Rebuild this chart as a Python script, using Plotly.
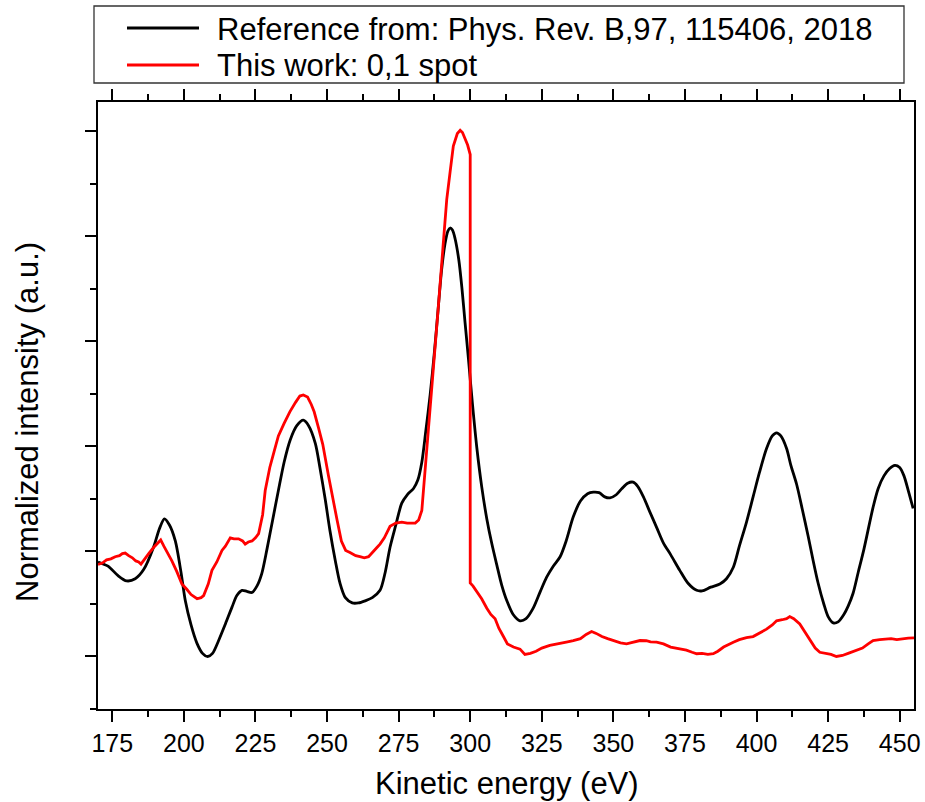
import plotly.graph_objects as go

# ---- Data ----
ref_energy = [170, 173.5, 177, 180, 183, 186, 189.4, 191.5, 193.2, 195, 197, 199, 200.5, 202.5, 204.5,
              206.5, 208.3, 210, 212.1, 214.5, 216.8, 218.5, 220.3, 222, 223.8, 225.5, 227.2, 229, 231,
              233, 235, 237.1, 239.5, 241.7, 243.5, 245.9, 247.5, 249.4, 251, 252.9, 254.5, 256.4, 258.8,
              261, 263.3, 265.8, 268.5, 270.3, 272, 274, 276.1, 278, 280.2, 281.7, 283.1, 284.5, 286,
              287.5, 288.9, 290, 291.2, 292.2, 293, 293.8, 294.7, 296, 297.1, 298.2, 299.4, 300.8, 302.3,
              304, 305.8, 307.5, 309.3, 311, 312.8, 315, 317.4, 319.5, 322, 324.5, 326.7, 329, 331.4,
              333.5, 336, 338.5, 341, 343, 345, 347, 348.8, 351, 353, 355, 356.9, 358.5, 360.5, 363,
              365.1, 367.5, 370, 373.2, 376, 379.1, 381, 384, 387.2, 389.5, 391.9, 394, 396.5, 398.8,
              401, 403.5, 405.5, 407, 408.5, 410.5, 412, 414, 416, 418, 419.8, 421.5, 423.5, 425, 426.8,
              428.5, 430.5, 432, 433.7, 435.5, 437.5, 440.7, 442.5, 444.5, 446.5, 448.3, 450, 451.5,
              453, 454.7]
ref_intensity = [0.90, 0.86, 0.77, 0.72, 0.74, 0.83, 1.04, 1.22, 1.31, 1.25, 1.10, 0.80, 0.53, 0.30, 0.13,
                 0.03, 0.00, 0.03, 0.15, 0.31, 0.47, 0.58, 0.63, 0.62, 0.61, 0.67, 0.79, 1.02, 1.30,
                 1.58, 1.85, 2.06, 2.20, 2.25, 2.20, 2.03, 1.80, 1.49, 1.20, 0.91, 0.70, 0.56, 0.51,
                 0.51, 0.53, 0.56, 0.63, 0.80, 1.04, 1.25, 1.46, 1.54, 1.60, 1.68, 1.85, 2.15, 2.49,
                 2.90, 3.34, 3.68, 3.93, 4.05, 4.08, 4.06, 3.98, 3.78, 3.51, 3.18, 2.83, 2.40, 1.99,
                 1.62, 1.31, 1.08, 0.87, 0.68, 0.53, 0.40, 0.34, 0.36, 0.46, 0.62, 0.755, 0.86, 0.95,
                 1.10, 1.33, 1.48, 1.55, 1.565, 1.56, 1.52, 1.51, 1.54, 1.60, 1.65, 1.66, 1.62, 1.52, 1.36,
                 1.23, 1.08, 0.97, 0.82, 0.70, 0.63, 0.625, 0.66, 0.69, 0.74, 0.85, 1.05, 1.28, 1.52,
                 1.75, 1.98, 2.10, 2.13, 2.10, 1.98, 1.82, 1.64, 1.40, 1.15, 0.91, 0.70, 0.50, 0.38, 0.32,
                 0.33, 0.40, 0.48, 0.60, 0.80, 1.02, 1.42, 1.60, 1.72, 1.79, 1.82, 1.80, 1.72,
                 1.58, 1.41]

work_energy = [170, 171.5, 173, 174.5, 176, 177.5, 178.5, 179.5, 180.7, 182, 183.2, 184.2, 185, 186,
               187.7, 189.5, 191, 191.9, 193, 194.5, 195.8, 197.5, 199.3, 201, 202.5, 204.6, 206, 206.9,
               208.5, 209.8, 211.5, 213.3, 214.5, 216.2, 217.5, 219.1, 220.5, 221.4, 222.5, 223.8, 225,
               226.1, 227.5, 228.4, 230, 231.5, 233, 235, 237, 239, 240.5, 241.7, 243.2, 244.5, 245.5,
               247, 248.5, 250.5, 252, 253.5, 255, 256.5, 258, 260, 261.5, 263, 264.5, 266, 267.5,
               268.5, 270, 272, 274, 276.1, 278, 280.8, 282, 283.1, 284.2, 285.4, 287, 288.9, 290.5,
               291.8, 293, 294.1, 295.5, 296.5, 297.3, 298.2, 299.1, 300.0, 300.0, 301, 302.3, 304,
               305.8, 307.2, 308.7, 310, 311.6, 313, 315.1, 317.4, 319.1, 321, 323, 325, 327.8, 330,
               332, 334, 336, 338.5, 340.5, 342.4, 344, 346, 348, 350, 352.5, 354.6, 357, 359.3, 361.5,
               363, 365.1, 367.5, 370, 373.2, 375.5, 377.5, 379.1, 381, 383, 384.9, 386.5, 388.5,
               390.5, 391.9, 394, 396.5, 398.8, 401, 403.5, 405.5, 407, 409, 410.5, 411.6, 413, 415.1,
               417, 419, 420.5, 422.1, 424, 426, 427.9, 430, 432, 434.9, 437, 439, 440.7, 443, 445,
               447, 449, 451, 453, 455]
work_intensity = [0.876, 0.89, 0.92, 0.93, 0.95, 0.96, 0.98, 0.985, 0.96, 0.94, 0.91, 0.90, 0.88, 0.92,
                  0.98, 1.04, 1.09, 1.11, 1.05, 0.98, 0.91, 0.81, 0.69, 0.64, 0.59, 0.55, 0.56, 0.58,
                  0.69, 0.82, 0.90, 1.01, 1.05, 1.13, 1.12, 1.12, 1.10, 1.07, 1.09, 1.10, 1.13,
                  1.17, 1.35, 1.58, 1.80, 1.95, 2.10, 2.22, 2.33, 2.42, 2.48, 2.49, 2.47, 2.40, 2.33,
                  2.18, 2.02, 1.72, 1.50, 1.30, 1.10, 1.01, 0.99, 0.96, 0.95, 0.94, 0.95, 0.99, 1.04,
                  1.07, 1.13, 1.24, 1.27, 1.28, 1.27, 1.27, 1.30, 1.39, 1.75, 2.16, 2.75, 3.34, 3.90,
                  4.35, 4.62, 4.86, 4.98, 5.01, 4.99, 4.93, 4.87, 4.78, 0.70, 0.67, 0.62, 0.55,
                  0.46, 0.40, 0.36, 0.27, 0.19, 0.12, 0.09, 0.07, 0.02, 0.03, 0.05, 0.08, 0.105, 0.12,
                  0.13, 0.14, 0.152, 0.17, 0.21, 0.238, 0.22, 0.19, 0.17, 0.152, 0.13, 0.12, 0.14, 0.152, 0.15,
                  0.14, 0.136, 0.12, 0.09, 0.073, 0.06, 0.04, 0.026, 0.03, 0.02, 0.026, 0.05, 0.09,
                  0.12, 0.136, 0.16, 0.18, 0.19, 0.22, 0.26, 0.30, 0.34, 0.35, 0.36, 0.38, 0.36, 0.31,
                  0.23, 0.14, 0.08, 0.04, 0.03, 0.02, 0.0, 0.01, 0.03, 0.057, 0.08, 0.12, 0.152, 0.16, 0.165,
                  0.17, 0.16, 0.17, 0.175, 0.178]

series_names = ["Reference from: Phys. Rev. B,97, 115406, 2018", "This work: 0,1 spot"]
series_colors = ["#000000", "#ff0000"]

x_tick_values = [175, 200, 225, 250, 275, 300, 325, 350, 375, 400, 425, 450]
x_tick_labels = [str(v) for v in x_tick_values]

x_title = "Kinetic energy (eV)"
y_title = "Normalized intensity (a.u.)"

FONT = "Liberation Sans, Arial, sans-serif"

fig = go.Figure()
fig.add_trace(go.Scatter(x=ref_energy, y=ref_intensity, mode="lines", name=series_names[0],
                         line=dict(color=series_colors[0], width=2.8, shape="spline", smoothing=0.8),
                         showlegend=False))
fig.add_trace(go.Scatter(x=work_energy, y=work_intensity, mode="lines", name=series_names[1],
                         line=dict(color=series_colors[1], width=2.8),
                         showlegend=False))

# ---- Legend drawn as a framed box above the plot ----
L, R, T, B = 98, 914, 102, 709
W, H = R - L, B - T
px = lambda v: (v - L) / W
py = lambda v: (B - v) / H

fig.add_shape(type="rect", xref="paper", yref="paper", x0=px(94), x1=px(904), y0=py(83), y1=py(6),
              line=dict(color="#333333", width=1.3), fillcolor="white", layer="above")
rows = [28, 65]
for name, color, row in zip(series_names, series_colors, rows):
    fig.add_shape(type="line", xref="paper", yref="paper", x0=px(127), x1=px(199), y0=py(row), y1=py(row),
                  line=dict(color=color, width=3))
    fig.add_annotation(xref="paper", yref="paper", x=px(215), y=py(row + 1), text=name, showarrow=False,
                       xanchor="left", yanchor="middle", font=dict(family=FONT, size=31, color="black"))

# axis titles, placed as in the reference
fig.add_annotation(xref="paper", yref="paper", x=px(27), y=py(422), text=y_title, textangle=-90,
                   showarrow=False, xanchor="center", yanchor="middle",
                   font=dict(family=FONT, size=31, color="black"))
fig.add_annotation(xref="paper", yref="paper", x=px(507), y=py(783), text=x_title,
                   showarrow=False, xanchor="center", yanchor="middle",
                   font=dict(family=FONT, size=31, color="black"))

fig.update_layout(
    width=925, height=802,
    margin=dict(l=98, r=11, t=102, b=93, autoexpand=False),
    paper_bgcolor="white", plot_bgcolor="white",
    font=dict(family=FONT, color="black"),
    xaxis=dict(
        range=[170, 455], tickvals=x_tick_values, ticktext=x_tick_labels,
        ticks="outside", ticklen=11, tickwidth=2, tickcolor="black",
        minor=dict(ticks="outside", ticklen=6, tickwidth=2, tickcolor="black", tick0=175, dtick=12.5),
        showline=True, linewidth=2, linecolor="black", mirror="ticks",
        showgrid=False, zeroline=False, automargin=False,
        tickfont=dict(family=FONT, size=25, color="black"),
    ),
    yaxis=dict(
        range=[-0.5, 5.28], tick0=0, dtick=1,
        ticks="outside", ticklen=11, tickwidth=2, tickcolor="black",
        minor=dict(ticks="outside", ticklen=6, tickwidth=2, tickcolor="black", tick0=0.5, dtick=1),
        showticklabels=False,
        showline=True, linewidth=2, linecolor="black", mirror=True,
        showgrid=False, zeroline=False, automargin=False,
    ),
)

fig.write_html("out.html")
